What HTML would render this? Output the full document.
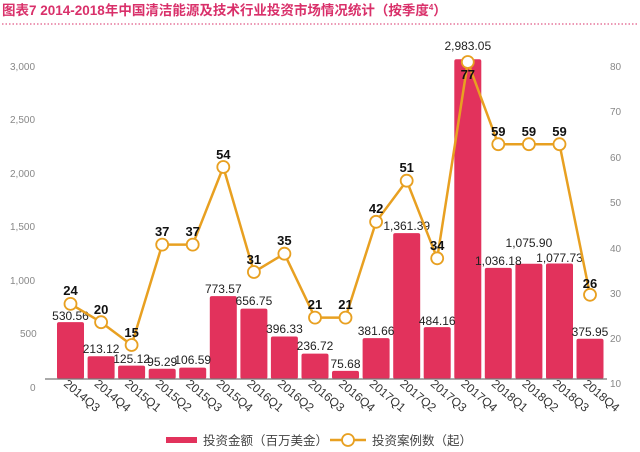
<!DOCTYPE html>
<html><head><meta charset="utf-8"><style>
body{margin:0;background:#fff;}
svg{display:block;font-family:"Liberation Sans","Noto Sans CJK SC",sans-serif;}
.ax{font-size:10px;fill:#888;}
.v{font-size:12px;fill:#222;text-anchor:middle;}
.c{font-size:13px;fill:#111;font-weight:bold;text-anchor:middle;}
.x{font-size:12px;fill:#333;}
</style></head><body>
<svg width="640" height="452" viewBox="0 0 640 452">
<text x="2" y="15" font-size="13.5" font-weight="bold" fill="#d9306a">图表7 2014-2018年中国清洁能源及技术行业投资市场情况统计（按季度<tspan font-size="8" dy="-5">4</tspan><tspan dy="5">）</tspan></text>
<line x1="2" y1="24" x2="638" y2="24" stroke="#d9306a" stroke-width="1" stroke-dasharray="1.5,2"/>
<g class="ax" text-anchor="start">
<text x="10" y="70">3,000</text><text x="10" y="123">2,500</text><text x="10" y="177">2,000</text><text x="10" y="230">1,500</text><text x="10" y="284">1,000</text><text x="20" y="337">500</text><text x="30" y="391">0</text>
</g>
<g class="ax" text-anchor="start">
<text x="610" y="70">80</text><text x="610" y="115">70</text><text x="610" y="161">60</text><text x="610" y="206">50</text><text x="610" y="252">40</text><text x="610" y="297">30</text><text x="610" y="342">20</text><text x="610" y="387">10</text>
</g>
<g fill="#e2325c">
<rect x="57" y="322.1" width="27" height="56.9" rx="2"/>
<rect x="87.6" y="356.2" width="27" height="22.8" rx="2"/>
<rect x="118.1" y="365.6" width="27" height="13.4" rx="2"/>
<rect x="148.7" y="368.8" width="27" height="10.2" rx="2"/>
<rect x="179.2" y="367.6" width="27" height="11.4" rx="2"/>
<rect x="209.8" y="296.1" width="27" height="82.9" rx="2"/>
<rect x="240.4" y="308.6" width="27" height="70.4" rx="2"/>
<rect x="270.9" y="336.5" width="27" height="42.5" rx="2"/>
<rect x="301.5" y="353.6" width="27" height="25.4" rx="2"/>
<rect x="332" y="370.9" width="27" height="8.1" rx="2"/>
<rect x="362.6" y="338.1" width="27" height="40.9" rx="2"/>
<rect x="393.2" y="233.1" width="27" height="145.9" rx="2"/>
<rect x="423.7" y="327.1" width="27" height="51.9" rx="2"/>
<rect x="454.3" y="59.2" width="27" height="319.8" rx="2"/>
<rect x="484.8" y="267.9" width="27" height="111.1" rx="2"/>
<rect x="515.4" y="263.7" width="27" height="115.3" rx="2"/>
<rect x="546" y="263.5" width="27" height="115.5" rx="2"/>
<rect x="576.5" y="338.7" width="27" height="40.3" rx="2"/>
</g>
<line x1="45" y1="379" x2="607" y2="379" stroke="#777" stroke-width="1.2"/>
<g class="v">
<text x="70.5" y="320">530.56</text><text x="101.1" y="353">213.12</text><text x="131.6" y="363">125.12</text><text x="162.2" y="366">95.29</text><text x="192.7" y="364">106.59</text><text x="223.3" y="293">773.57</text><text x="253.9" y="305">656.75</text><text x="284.4" y="333">396.33</text><text x="315" y="350">236.72</text><text x="345.5" y="368">75.68</text><text x="376.1" y="335">381.66</text><text x="406.7" y="230">1,361.39</text><text x="437.2" y="325">484.16</text><text x="467.8" y="50">2,983.05</text><text x="498.3" y="265">1,036.18</text><text x="528.9" y="247">1,075.90</text><text x="559.5" y="262">1,077.73</text><text x="590" y="336">375.95</text>
</g>
<polyline fill="none" stroke="#e8a021" stroke-width="2.5" stroke-linejoin="round" points="70.5,303.9 101.1,322.2 131.6,345 162.2,244.6 192.7,244.6 223.3,167 253.9,272 284.4,253.7 315,317.6 345.5,317.6 376.1,221.8 406.7,180.7 437.2,258.3 467.8,62 498.3,144.2 528.9,144.2 559.5,144.2 590,294.8"/>
<g fill="#fff" stroke="#e8a021" stroke-width="1.8">
<circle cx="70.5" cy="303.9" r="6"/><circle cx="101.1" cy="322.2" r="6"/><circle cx="131.6" cy="345" r="6"/><circle cx="162.2" cy="244.6" r="6"/><circle cx="192.7" cy="244.6" r="6"/><circle cx="223.3" cy="167" r="6"/><circle cx="253.9" cy="272" r="6"/><circle cx="284.4" cy="253.7" r="6"/><circle cx="315" cy="317.6" r="6"/><circle cx="345.5" cy="317.6" r="6"/><circle cx="376.1" cy="221.8" r="6"/><circle cx="406.7" cy="180.7" r="6"/><circle cx="437.2" cy="258.3" r="6"/><circle cx="467.8" cy="62" r="6"/><circle cx="498.3" cy="144.2" r="6"/><circle cx="528.9" cy="144.2" r="6"/><circle cx="559.5" cy="144.2" r="6"/><circle cx="590" cy="294.8" r="6"/>
</g>
<g class="c">
<text x="70.5" y="295">24</text><text x="101.1" y="314">20</text><text x="131.6" y="337">15</text><text x="162.2" y="236">37</text><text x="192.7" y="236">37</text><text x="223.3" y="159">54</text><text x="253.9" y="264">31</text><text x="284.4" y="245">35</text><text x="315" y="309">21</text><text x="345.5" y="309">21</text><text x="376.1" y="213">42</text><text x="406.7" y="172">51</text><text x="437.2" y="250">34</text><text x="467.8" y="79">77</text><text x="498.3" y="136">59</text><text x="528.9" y="136">59</text><text x="559.5" y="136">59</text><text x="590" y="288">26</text>
</g>
<g class="x">
<text transform="translate(63,385) rotate(40)">2014Q3</text>
<text transform="translate(93.6,385) rotate(40)">2014Q4</text>
<text transform="translate(124.1,385) rotate(40)">2015Q1</text>
<text transform="translate(154.7,385) rotate(40)">2015Q2</text>
<text transform="translate(185.2,385) rotate(40)">2015Q3</text>
<text transform="translate(215.8,385) rotate(40)">2015Q4</text>
<text transform="translate(246.4,385) rotate(40)">2016Q1</text>
<text transform="translate(276.9,385) rotate(40)">2016Q2</text>
<text transform="translate(307.5,385) rotate(40)">2016Q3</text>
<text transform="translate(338,385) rotate(40)">2016Q4</text>
<text transform="translate(368.6,385) rotate(40)">2017Q1</text>
<text transform="translate(399.2,385) rotate(40)">2017Q2</text>
<text transform="translate(429.7,385) rotate(40)">2017Q3</text>
<text transform="translate(460.3,385) rotate(40)">2017Q4</text>
<text transform="translate(490.8,385) rotate(40)">2018Q1</text>
<text transform="translate(521.4,385) rotate(40)">2018Q2</text>
<text transform="translate(552,385) rotate(40)">2018Q3</text>
<text transform="translate(582.5,385) rotate(40)">2018Q4</text>
</g>
<rect x="166" y="437" width="31" height="6" fill="#e2325c"/>
<text x="203" y="445" font-size="12.5" fill="#444">投资金额（百万美金）</text>
<line x1="330" y1="440" x2="366" y2="440" stroke="#e8a021" stroke-width="2.5"/>
<circle cx="348" cy="440" r="6" fill="#fff" stroke="#e8a021" stroke-width="1.8"/>
<text x="372" y="445" font-size="12.5" fill="#444">投资案例数（起）</text>
</svg>
</body></html>
